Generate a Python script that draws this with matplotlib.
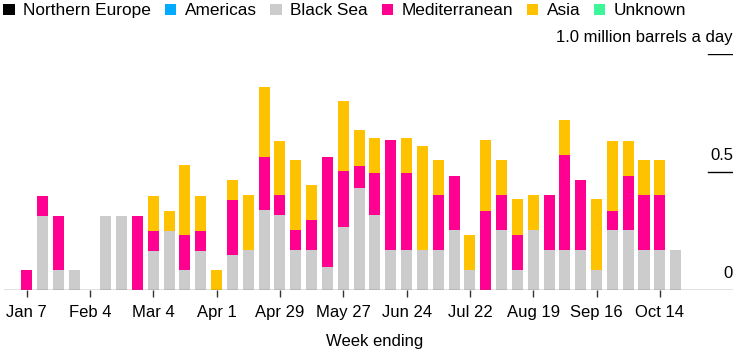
import pandas as pd
import numpy as np
import matplotlib
matplotlib.use("Agg")
import matplotlib.pyplot as plt
from matplotlib.patches import Patch

plt.rcParams['font.family'] = ['Liberation Sans', 'DejaVu Sans']

# semanas (data final de cada semana)
weeks = pd.date_range('2023-01-07', periods=42, freq='7D')

northern_europe = [0.0] * 42
americas = [0.0] * 42
black_sea = [0, .315, .085, .085, 0, .315, .315, 0, .166, .252,
             .085, .166, 0, .148, .168, .337, .316, .168, .168, .096,
             .265, .433, .316, .168, .168, .168, .168, .254, .086, 0,
             .254, .086, .254, .168, .168, .168, .086, .254, .254, .168,
             .168, .168]
mediterranean = [.085, .085, .23, 0, 0, 0, 0, .315, .086, 0,
                 .146, .086, 0, .233, 0, .228, .086, .085, .128, .469,
                 .239, .091, .178, .469, .326, 0, .234, .23, 0, .335,
                 .148, .149, 0, .234, .404, .298, 0, .081, .23, .235,
                 .235, 0]
asia = [0, 0, 0, 0, 0, 0, 0, 0, .148, .084,
        .298, .148, .085, .084, .234, .297, .23, .298, .147, 0,
        .296, .153, .148, 0, .149, .444, .149, 0, .149, .302,
        .149, .149, .148, 0, .148, 0, .298, .297, .148, .148,
        .148, 0]
unknown = [0.0] * 42

series = [
    ("Northern Europe", northern_europe, "#000000"),
    ("Americas", americas, "#00aaff"),
    ("Black Sea", black_sea, "#cccccc"),
    ("Mediterranean", mediterranean, "#ff0090"),
    ("Asia", asia, "#ffc200"),
    ("Unknown", unknown, "#3ff59a"),
]

fig = plt.figure(figsize=(7.4, 3.55), dpi=100)
ax = fig.add_axes([4 / 740, 65 / 355, 729 / 740, 236 / 355])

x = np.arange(len(weeks))
bottom = np.zeros(len(weeks))
for nome, vals, cor in series:
    vals = np.array(vals)
    ax.bar(x, vals, bottom=bottom, width=0.7, color=cor, linewidth=0, zorder=2)
    bottom += vals

ax.set_xlim(-1.43, 44.62)
ax.set_ylim(0, 1.0)

for s in ax.spines.values():
    s.set_visible(False)
ax.axhline(0, color="#666666", lw=1, zorder=3)
ax.axhline(0.5, xmin=0.966, xmax=1, color="black", lw=1)
ax.axhline(1.0, xmin=0.966, xmax=1, color="black", lw=1)

ax.set_yticks([])
tick_idx = x[::4]
ax.set_xticks(tick_idx)
ax.set_xticklabels([f"{d.strftime('%b')} {d.day}" for d in weeks[::4]])
ax.tick_params(axis="x", length=5, width=1, color="#333333", pad=6,
               labelsize=12, labelcolor="black")

tr = ax.get_yaxis_transform()
for yv, txt in [(0, "0"), (0.5, "0.5"), (1.0, "1.0 million barrels a day")]:
    ax.annotate(txt, xy=(1, yv), xycoords=tr, xytext=(0, 6.5),
                textcoords="offset points", ha="right", va="bottom",
                fontsize=12, color="black")

ax.set_xlabel("Week ending", fontsize=12)
ax.xaxis.set_label_coords(0.509, -0.185)

handles = [Patch(facecolor=c, edgecolor="none") for _, _, c in series]
fig.legend(handles, [n for n, _, _ in series], loc="upper left",
           bbox_to_anchor=(0.0, 1.0), ncol=6, frameon=False,
           fontsize=12.4, handlelength=0.65, handleheight=0.65,
           handletextpad=0.5, columnspacing=0.8, borderpad=0.1,
           borderaxespad=0.1)

plt.savefig("out.png", dpi=100)
